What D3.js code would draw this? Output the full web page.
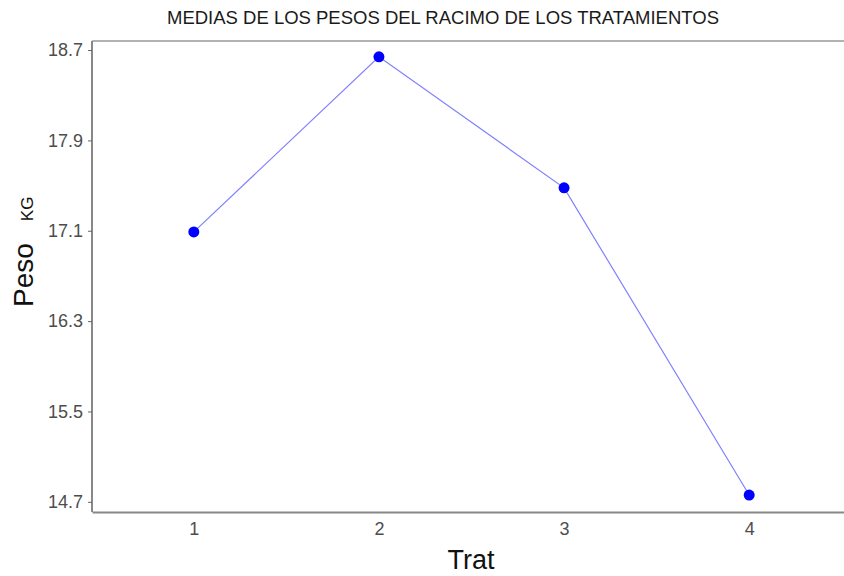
<!DOCTYPE html>
<html lang="es">
<head>
<meta charset="UTF-8">
<script src="https://d3js.org/d3.v7.min.js"></script>
<style>
  body { margin: 0; background: #fff; }
  svg text { font-family: "Liberation Sans", Arial, sans-serif; }
</style>
</head>
<body>
<div id="chart"></div>
<script>
// Data
const trat = [1, 2, 3, 4];
const peso = [17.09, 18.64, 17.48, 14.76];
const yTicks = [14.7, 15.5, 16.3, 17.1, 17.9, 18.7];

const width = 844, height = 576;
const margin = { top: 41, right: -7, bottom: 64, left: 92 };

const svg = d3.select("#chart").append("svg")
    .attr("width", width)
    .attr("height", height);

const x = d3.scaleLinear()
    .domain([0.45, 4.55])
    .range([margin.left, width - margin.right]);

const y = d3.scaleLinear()
    .domain([14.61, 18.78])
    .range([height - margin.bottom, margin.top]);

// Title
svg.append("text")
    .attr("x", 443)
    .attr("y", 24)
    .attr("text-anchor", "middle")
    .style("font-size", "18.5px")
    .style("fill", "#1a1a1a")
    .text("MEDIAS DE LOS PESOS DEL RACIMO DE LOS TRATAMIENTOS");

// Top border
svg.append("line")
    .attr("x1", margin.left).attr("x2", width)
    .attr("y1", margin.top).attr("y2", margin.top)
    .attr("stroke", "#999").attr("stroke-width", 1.5);

// Y axis
const yAxis = svg.append("g")
    .attr("transform", `translate(${margin.left},0)`)
    .call(d3.axisLeft(y).tickValues(yTicks).tickFormat(d3.format(".1f")).tickSize(4).tickPadding(5));
yAxis.select(".domain").attr("stroke", "#888").attr("stroke-width", 2)
    .attr("d", `M0,${margin.top}V${height - margin.bottom}`);
yAxis.selectAll(".tick line").attr("stroke", "#666");
yAxis.selectAll(".tick text").style("font-size", "18px").attr("fill", "#4d4d4d");

// X axis
const xAxis = svg.append("g")
    .attr("transform", `translate(0,${height - margin.bottom})`)
    .call(d3.axisBottom(x).tickValues(trat).tickFormat(d3.format("d")).tickSize(0).tickPadding(10));
xAxis.select(".domain").attr("stroke", "#888").attr("stroke-width", 2);
xAxis.selectAll(".tick text").style("font-size", "18px").attr("fill", "#4d4d4d");

// Axis titles
svg.append("text")
    .attr("x", 471)
    .attr("y", 569)
    .attr("text-anchor", "middle")
    .style("font-size", "27px")
    .style("fill", "#111")
    .text("Trat");

const yTitle = svg.append("text")
    .attr("transform", "translate(33,307) rotate(-90)")
    .attr("text-anchor", "start")
    .style("fill", "#111");
yTitle.append("tspan").style("font-size", "28px").text("Peso");
yTitle.append("tspan").attr("dx", 22).style("font-size", "17px").text("KG");

// Line and points
const pts = trat.map((t, i) => ({ t, v: peso[i] }));
svg.append("path")
    .datum(pts)
    .attr("fill", "none")
    .attr("stroke", "#8080ff")
    .attr("stroke-width", 1.2)
    .attr("d", d3.line().x(d => x(d.t)).y(d => y(d.v)));

svg.selectAll("circle.pt")
    .data(pts)
    .join("circle")
    .attr("class", "pt")
    .attr("cx", d => x(d.t))
    .attr("cy", d => y(d.v))
    .attr("r", 5.5)
    .attr("fill", "#0000ff");
</script>
</body>
</html>
